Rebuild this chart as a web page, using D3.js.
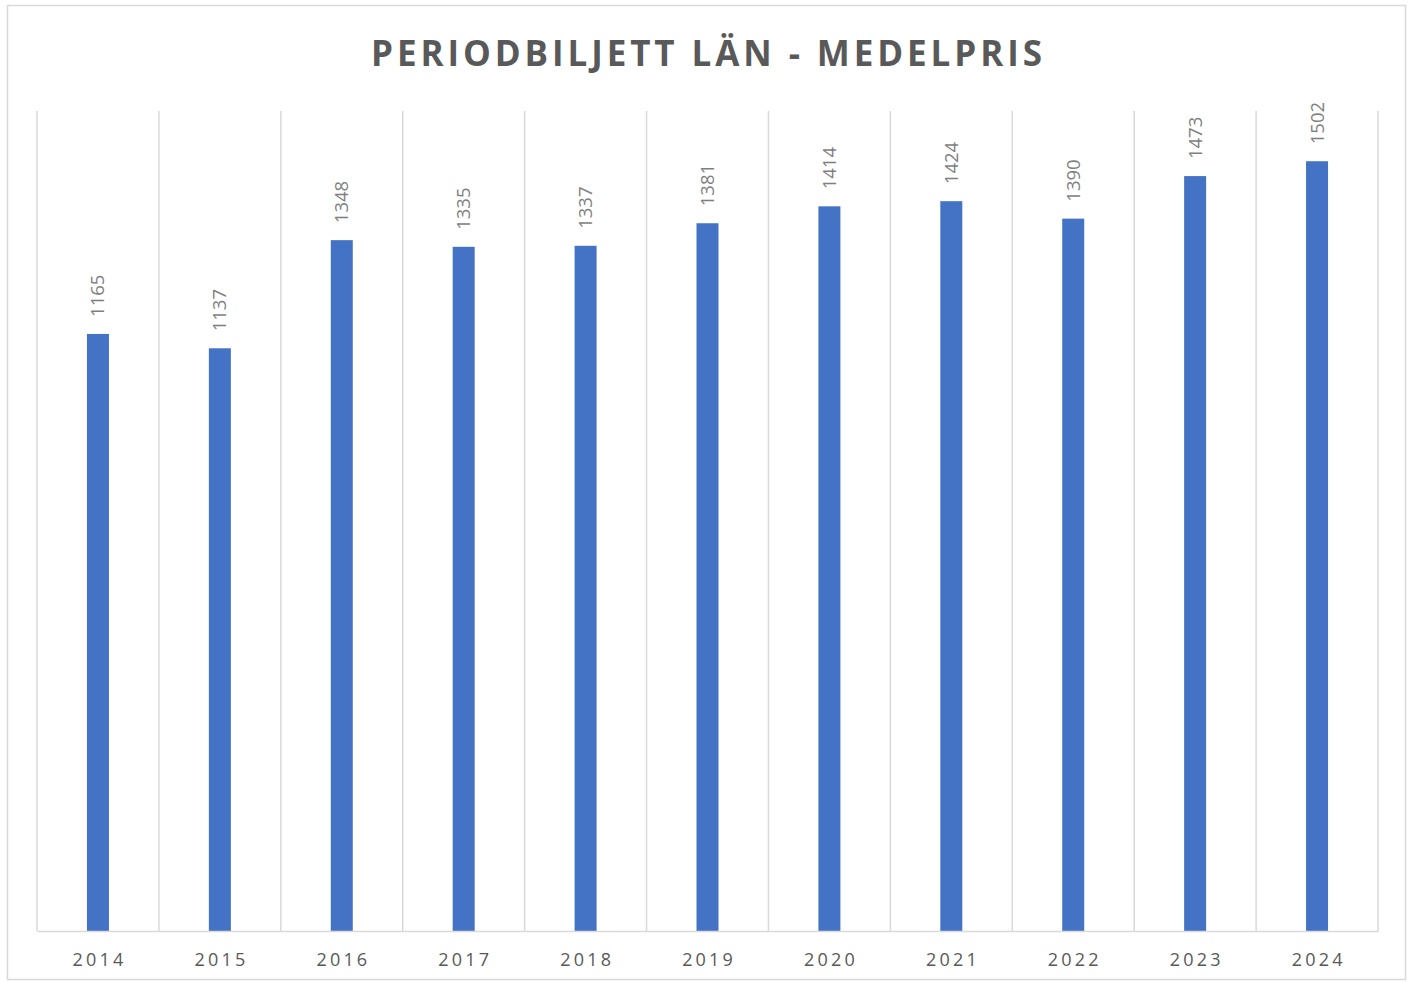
<!DOCTYPE html>
<html><head><meta charset="utf-8">
<script src="https://cdn.jsdelivr.net/npm/d3@7"></script>
<style>body{margin:0;background:#fff}</style>
</head><body>
<svg id="c" width="1413" height="982"></svg>
<script>
const years = ["2014","2015","2016","2017","2018","2019","2020","2021","2022","2023","2024"];
const prices = [1165,1137,1348,1335,1337,1381,1414,1424,1390,1473,1502];
const title = "PERIODBILJETT LÄN - MEDELPRIS";

const svg = d3.select("#c");
svg.append("rect").attr("x",7.5).attr("y",5.5).attr("width",1398).attr("height",974)
  .attr("fill","#fff").attr("stroke","#d9d9d9").attr("stroke-width",1.5);

const m = {left:37, right:1378, top:111, bottom:931};
const x = d3.scaleBand().domain(years).range([m.left,m.right]).paddingInner(0).paddingOuter(0);
const y = d3.scaleLinear().domain([0,1600]).range([m.bottom,m.top]);

const bounds = years.map(d=>x(d)).concat([m.right]);
svg.append("g").selectAll("line").data(bounds).join("line")
  .attr("x1",d=>d).attr("x2",d=>d).attr("y1",m.top).attr("y2",m.bottom)
  .attr("stroke","#d9d9d9").attr("stroke-width",1.5);

const bw = 22;
svg.append("g").selectAll("rect").data(prices).join("rect")
  .attr("x",(d,i)=>x(years[i])+x.bandwidth()/2-bw/2)
  .attr("width",bw)
  .attr("y",d=>y(d))
  .attr("height",d=>y(0)-y(d))
  .attr("fill","#4472C4");

const xAxis = d3.axisBottom(x).tickSize(0).tickPadding(29);
const ax = svg.append("g").attr("transform",`translate(0,${m.bottom})`).call(xAxis);
ax.select(".domain").attr("stroke","#d9d9d9").attr("stroke-width",1.5);
ax.selectAll("text").attr("font-family","'Open Sans', sans-serif").attr("font-size",18)
  .attr("fill","#595959").attr("letter-spacing","3.2px").attr("dy","0.32em")
  .attr("dx","1.6px");

svg.append("g").selectAll("text").data(prices).join("text")
  .attr("transform",(d,i)=>`translate(${x(years[i])+x.bandwidth()/2+6.5},${y(d)-17}) rotate(-90)`)
  .attr("text-anchor","start")
  .attr("font-family","'Open Sans', sans-serif").attr("font-size",18.5)
  .attr("fill","#7f7f7f").text(d=>d);

svg.append("text").attr("x",706.5).attr("y",65.5)
  .attr("text-anchor","middle")
  .attr("font-family","'Open Sans', sans-serif").attr("font-weight","bold").attr("font-size",35)
  .attr("fill","#595959").attr("textLength",671).attr("lengthAdjust","spacing")
  .text(title);
</script>
</body></html>
